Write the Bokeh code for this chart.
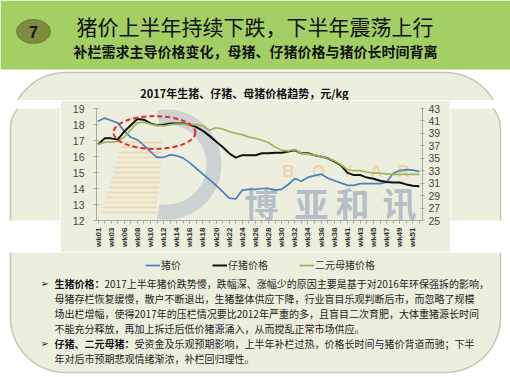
import math
import numpy as np
from bokeh.plotting import figure
from bokeh.layouts import column, row
from bokeh.models import (Range1d, LinearAxis, FixedTicker, Label, Legend, LegendItem)
from bokeh.core.properties import value
from bokeh.embed import file_html
from bokeh.resources import INLINE

# ---------------- data ----------------
weeks = ["wk01", "wk02", "wk03", "wk04", "wk06", "wk07", "wk08", "wk09", "wk10", "wk11",
         "wk12", "wk13", "wk14", "wk15", "wk16", "wk17", "wk18", "wk19", "wk20", "wk21",
         "wk22", "wk23", "wk24", "wk25", "wk26", "wk27", "wk28", "wk29", "wk30", "wk31",
         "wk32", "wk33", "wk34", "wk35", "wk36", "wk37", "wk38", "wk40", "wk41", "wk42",
         "wk43", "wk44", "wk45", "wk46", "wk47", "wk48", "wk49", "wk50", "wk51", "wk52"]

# 猪价 (left axis)
hog = [18.2, 18.4, 18.25, 18.1, 17.6, 17.2, 17.05, 16.7, 16.3, 15.95,
       15.95, 16.1, 16.05, 15.9, 15.6, 15.25, 14.9, 14.55, 14.2, 13.8,
       13.4, 13.35, 13.9, 13.95, 13.95, 14.0, 14.0, 13.9, 13.95, 14.25,
       14.62, 14.45, 14.7, 14.8, 14.9, 14.65, 14.5, 14.35, 14.2, 14.2,
       14.3, 14.3, 14.3, 14.3, 14.4, 14.95, 15.12, 15.18, 15.15, 15.05]

# 仔猪价格 (right axis)
piglet = [37.2, 38.2, 38.2, 38.0, 39.3, 40.3, 41.3, 41.2, 40.6, 40.3,
          40.4, 40.6, 40.6, 40.6, 40.4, 40.0, 39.4, 38.6, 37.7, 36.8,
          35.8, 35.1, 35.5, 35.5, 35.5, 35.8, 35.8, 35.9, 35.9, 36.1,
          36.3, 35.8, 35.8, 35.5, 35.3, 35.0, 34.5, 33.9, 32.7, 32.3,
          32.3, 31.9, 31.7, 31.4, 31.2, 31.1, 31.1, 30.8, 30.6, 30.5]

# 二元母猪价格 (right axis)
sow = [37.2, 37.6, 37.6, 37.7, 38.4, 39.6, 40.7, 40.8, 40.5, 40.3,
       40.2, 40.4, 40.5, 40.5, 40.4, 40.4, 40.2, 39.5, 39.9, 39.7,
       39.3, 39.0, 38.8, 38.4, 38.2, 37.9, 37.5, 36.8, 36.3, 36.2,
       36.4, 35.8, 35.7, 35.5, 35.3, 35.0, 34.6, 34.0, 33.2, 33.0,
       33.0, 32.8, 32.6, 32.6, 32.5, 32.4, 32.4, 32.4, 32.4, 32.4]

left_ticks = [12, 13, 14, 15, 16, 17, 18, 19]
right_ticks = [25, 27, 29, 31, 33, 35, 37, 39, 41, 43]
series_names = ["猪价", "仔猪价格", "二元母猪价格"]

header_title = "猪价上半年持续下跌，下半年震荡上行"
header_sub = "补栏需求主导价格变化，母猪、仔猪价格与猪价长时间背离"
chart_title = "2017年生猪、仔猪、母猪价格趋势，元/kg"
bullets = [
    ("生猪价格：", "2017上半年猪价跌势慢，跌幅深、涨幅少的原因主要是基于对2016年环保强拆的影响，"),
    (None, "母猪存栏恢复缓慢，散户不断退出，生猪整体供应下降，行业盲目乐观判断后市，而忽略了规模"),
    (None, "场出栏增幅，使得2017年的压栏情况要比2012年严重的多，且盲目二次育肥，大体重猪源长时间"),
    (None, "不能充分释放，再加上拆迁后低价猪源涌入，从而搅乱正常市场供应。"),
    ("仔猪、二元母猪：", "受资金及乐观预期影响，上半年补栏过热，价格长时间与猪价背道而驰；下半"),
    (None, "年对后市预期悲观情绪渐浓，补栏回归理性。"),
]

# ---------------- style / layout constants ----------------
CJK = "Noto Sans CJK SC"
LAT = "Liberation Sans"
PANEL = "#EDEFDE"
GREEN_HDR = "#A3CF64"
C_HOG, C_PIG, C_SOW = "#4F7FBF", "#111111", "#9CB65C"
LW_HOG, LW_PIG, LW_SOW = 1.7, 2.0, 1.7
W, H = 510, 377
Y_TOP, Y_BOT = 100, 252          # chart row spans these canvas rows
X_L, X_R = 60, 450               # chart figure spans these canvas columns
PL, PR, PT, PB, R = 10, 500, 72, 372, 55   # panel rounded rectangle


def deco_fig(x0, x1, y0, y1):
    """A figure whose frame is the whole canvas region [x0,x1]x[y0,y1] in page pixels."""
    f = figure(width=x1 - x0, height=y1 - y0, x_range=Range1d(x0, x1), y_range=Range1d(y1, y0),
               x_axis_type=None, y_axis_type=None, min_border=0, toolbar_location=None,
               output_backend="svg", outline_line_color=None,
               background_fill_color="#FFFFFF", border_fill_color="#FFFFFF")
    f.grid.visible = False
    f.quad(left=0, right=W, top=0, bottom=69, fill_color=GREEN_HDR, line_alpha=0)
    xs, ys = [], []
    for cx, cy, a0 in [(PL + R, PT + R, math.pi), (PR - R, PT + R, 1.5 * math.pi),
                       (PR - R, PB - R, 0), (PL + R, PB - R, 0.5 * math.pi)]:
        th = np.linspace(a0, a0 + 0.5 * math.pi, 20)
        xs += list(cx + R * np.cos(th))
        ys += list(cy + R * np.sin(th))
    f.patch(xs, ys, fill_color=PANEL, line_color="#C4C7B4", line_width=1.5)
    return f


def lab(f, xp, yp, text, size, bold=False, font=CJK, color="#111111", align="left"):
    f.add_layout(Label(x=xp, y=yp, text=text, text_font=font, text_font_size=f"{size}px",
                       text_font_style="bold" if bold else "normal", text_color=color,
                       text_align=align, text_baseline="middle"))


# ---------------- top ----------------
top = deco_fig(0, W, 0, Y_TOP)
top.ellipse(x=33, y=31, width=34, height=24, fill_color="#7D8B40", line_color="#6E7B36")
lab(top, 33, 31, "7", 16, bold=True, font=LAT, color="#111111", align="center")
lab(top, 76, 25, header_title, 21)
lab(top, 73, 50, header_sub, 14, bold=True)
lab(top, 244, 92, chart_title, 11, bold=True, align="center")

# ---------------- sides ----------------
left = deco_fig(0, X_L, Y_TOP, Y_BOT)
right = deco_fig(X_R, W, Y_TOP, Y_BOT)

# ---------------- chart ----------------
x = list(range(len(weeks)))
p = figure(width=X_R - X_L, height=Y_BOT - Y_TOP, output_backend="svg", toolbar_location=None,
           x_range=Range1d(-0.23, 49.47), y_range=Range1d(12, 19),
           min_border_left=96 - X_L, min_border_right=X_R - 422, min_border_top=108 - Y_TOP,
           min_border_bottom=Y_BOT - 220,
           background_fill_color=PANEL, border_fill_color=PANEL, outline_line_color=None)
p.grid.visible = False
p.extra_y_ranges = {"right": Range1d(25, 43), "py": Range1d(220, 108)}
p.extra_x_ranges = {"px": Range1d(96, 422)}

ax = p.xaxis[0]
ax.ticker = FixedTicker(ticks=x[::2], minor_ticks=x)
ax.major_label_overrides = {i: weeks[i] for i in x[::2]}
ax.major_label_orientation = math.pi / 2
ax.major_label_text_font = LAT
ax.major_label_text_font_style = "bold"
ax.major_label_text_font_size = "8px"
ax.major_label_text_color = "#333333"
ax.major_label_standoff = 4
ax.axis_line_color = "#A8A8A0"
ax.major_tick_line_color = "#A8A8A0"
ax.minor_tick_line_color = "#A8A8A0"
ax.major_tick_out = 3
ax.major_tick_in = 0
ax.minor_tick_out = 3
ax.minor_tick_in = 0

ay = p.yaxis[0]
ay.ticker = FixedTicker(ticks=left_ticks)
ay.major_label_text_font = LAT
ay.major_label_text_font_size = "10.5px"
ay.major_label_text_color = "#444444"
ay.major_label_standoff = 9
ay.axis_line_color = "#A8A8A0"
ay.major_tick_line_color = "#A8A8A0"
ay.major_tick_out = 3
ay.major_tick_in = 2
ay.minor_tick_line_color = None

ry = LinearAxis(y_range_name="right", ticker=FixedTicker(ticks=right_ticks))
ry.major_label_text_font = LAT
ry.major_label_text_font_size = "10.5px"
ry.major_label_text_color = "#444444"
ry.major_label_standoff = 4
ry.axis_line_color = "#A8A8A0"
ry.major_tick_line_color = "#A8A8A0"
ry.major_tick_out = 2
ry.major_tick_in = 2
ry.minor_tick_line_color = None
p.add_layout(ry, "right")

# watermark logo (decoration under the lines, page-pixel coordinates)
stripe_y = np.arange(142, 216, 5)
p.segment(x0=100 + (216 - stripe_y) * 0.3, y0=stripe_y, x1=162 - (stripe_y - 142) * 0.08,
          y1=stripe_y, x_range_name="px", y_range_name="py",
          line_color="#F0C590", line_alpha=0.55, line_width=2)
p.annular_wedge(x=166, y=164, inner_radius=40, outer_radius=55,
                start_angle=-math.radians(100), end_angle=math.radians(100),
                x_range_name="px", y_range_name="py",
                fill_color="#A3AEC3", fill_alpha=0.45, line_alpha=0)
p.text(x=[261, 311, 352, 399], y=[202, 202, 202, 202], text=["博", "亚", "和", "讯"],
       x_range_name="px", y_range_name="py", text_font=value(CJK), text_font_size="34px",
       text_font_style="bold", text_color="#A7B1C2", text_alpha=0.8,
       text_align="center", text_baseline="middle")
p.text(x=[288, 318, 347, 376, 403], y=[171] * 5, text=["B", "O", "Y", "A", "R"],
       x_range_name="px", y_range_name="py", text_font=value(LAT), text_font_size="17px",
       text_font_style="bold", text_color="#EBCB98", text_alpha=0.7,
       text_align="center", text_baseline="middle")

p.line(x, hog, line_color=C_HOG, line_width=LW_HOG)
p.line(x, piglet, y_range_name="right", line_color=C_PIG, line_width=LW_PIG)
p.line(x, sow, y_range_name="right", line_color=C_SOW, line_width=LW_SOW)

ell_x, ell_y, ell_w, ell_h = 8.6, 17.5, 12.5, 2.05
p.ellipse(x=ell_x, y=ell_y, width=ell_w, height=ell_h, fill_alpha=0,
          line_color="#E02A30", line_width=2, line_dash="5 3")

# ---------------- bottom (legend + notes) ----------------
bottom = deco_fig(0, W, Y_BOT, H)
# legend proxies: the same series, which fall outside this strip's visible range
lg = [bottom.line(x=x, y=s, line_color=c, line_width=w)
      for s, c, w in [(hog, C_HOG, LW_HOG), (piglet, C_PIG, LW_PIG), (sow, C_SOW, LW_SOW)]]
legend = Legend(items=[LegendItem(label=n, renderers=[r]) for n, r in zip(series_names, lg)],
                location=(145, 105), orientation="horizontal", spacing=31,
                glyph_width=15, glyph_height=10, label_height=12, label_standoff=1,
                padding=0, margin=0, border_line_alpha=0, background_fill_alpha=0,
                label_text_font=CJK, label_text_font_size="10px", label_text_color="#333333")
bottom.add_layout(legend)

line_y = [283, 298, 313, 328, 343, 358]
for (head, body), yy in zip(bullets, line_y):
    xx = 54
    if head is not None:
        lab(bottom, 40, yy, "➢", 10, font="DejaVu Sans", color="#222222")
        lab(bottom, xx, yy, head, 10, bold=True, color="#111111")
        xx += 10 * len(head)
    lab(bottom, xx, yy, body, 10, color="#222222")

page = column(top, row(left, p, right, spacing=0), bottom, spacing=0)
open("out.html", "w").write(file_html(page, INLINE))
